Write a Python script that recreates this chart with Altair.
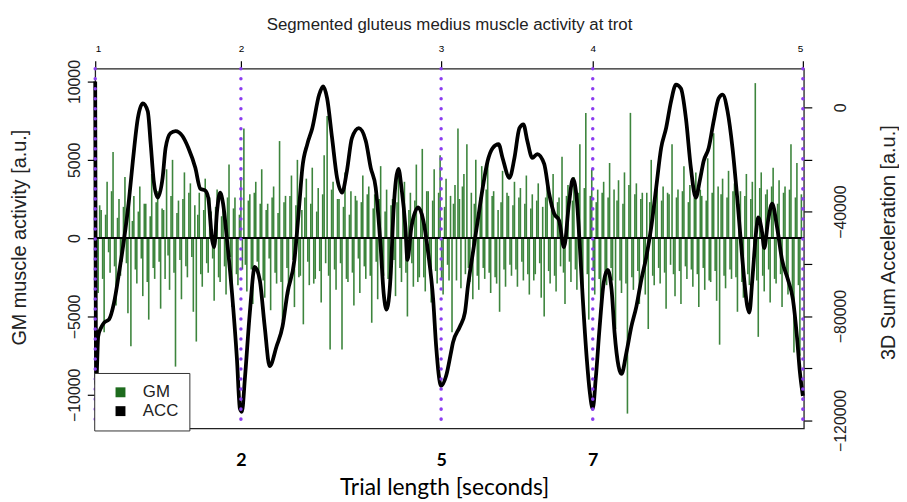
import altair as alt
import pandas as pd

# ---------------- data ----------------
# x is the sample index of the trial (0 .. 1430)
X_MAX = 1430
seg_samples = [0, 294, 698, 1004, 1428]       # segment boundaries (top axis 1..5)
seg_labels = ["1", "2", "3", "4", "5"]
sec_samples = [294, 698, 1004]                # same boundaries in seconds (bottom labels)
sec_labels = ["2", "5", "7"]

# ACC (3D sum acceleration) trace
acc_sample = [
    0, 2, 6, 12, 18, 28, 38, 48, 58, 68,
    76, 86, 96, 106, 112, 118, 126, 136, 142, 152,
    162, 176, 188, 202, 212, 222, 228, 236, 240, 246,
    252, 258, 266, 276, 286, 292, 296, 302, 312, 322,
    332, 342, 352, 366, 378, 388, 402, 412, 418, 428,
    438, 452, 460, 468, 478, 488, 498, 508, 518, 532,
    546, 556, 566, 576, 582, 588, 596, 602, 612, 618,
    626, 630, 638, 652, 662, 672, 682, 688, 698, 708,
    718, 722, 736, 746, 752, 762, 772, 782, 792, 802,
    814, 822, 836, 846, 856, 864, 872, 882, 892, 906,
    916, 926, 936, 946, 956, 964, 972, 978, 984, 992,
    998, 1004, 1010, 1018, 1026, 1034, 1042, 1048, 1056, 1062,
    1072, 1082, 1092, 1102, 1112, 1122, 1132, 1142, 1152, 1162,
    1172, 1182, 1192, 1202, 1212, 1220, 1228, 1238, 1248, 1258,
    1266, 1276, 1286, 1296, 1306, 1316, 1320, 1326, 1334, 1338,
    1346, 1350, 1358, 1366, 1376, 1386, 1398, 1408, 1416, 1422,
    1428,
]
acc_value = [
    9900, -106000, -87800, -84400, -82500, -81300, -74900, -63500, -50900, -35700,
    -20500, -4200, 1500, -1500, -14100, -28100, -34600, -27000, -15600, -9900,
    -9100, -11000, -15600, -23200, -31200, -31900, -34600, -50900, -53600, -39500,
    -32700, -36900, -50900, -71100, -96500, -115500, -116700, -104100, -78700, -61200,
    -66100, -84000, -99200, -91600, -84000, -71100, -58500, -36900, -23200, -14100,
    -8000, 4900, 8000, 3400, -11800, -27000, -32700, -24300, -11800, -8000,
    -12900, -23200, -30800, -53600, -71100, -77500, -65000, -39500, -23600, -30800,
    -46000, -58500, -46000, -38400, -43300, -55900, -73700, -91600, -106800, -103000,
    -93900, -90100, -84000, -78700, -68800, -55900, -43300, -30800, -20500, -15600,
    -14100, -19400, -27000, -19400, -8000, -6500, -12900, -19400, -17900, -21700,
    -33100, -40700, -43300, -53600, -36900, -27400, -35700, -53600, -73700, -96500,
    -109100, -115500, -104100, -84000, -67300, -62300, -69900, -86300, -99200, -102200,
    -93900, -84000, -76400, -66100, -57400, -46000, -30800, -15600, -8000, 2300,
    8700, 7200, -4200, -23200, -34600, -28100, -20500, -15600, -5300, 3400,
    4900, -1500, -15600, -35700, -58500, -76400, -78700, -66100, -47100, -42200,
    -48300, -54000, -43300, -36900, -46000, -58500, -66100, -73700, -87800, -101500,
    -110600,
]

# GM (gluteus medius EMG) spikes: main samples every GM_STEP, in-between samples offset by GM_STEP/2
GM_STEP = 6
gm_value = [
    2800, -3500, 1800, -6000, 3600, -2200, 5500, -4300, 2500, -1500,
    3900, -4800, -6900, 2700, -2900, 3300, -3700, 2200, -5200, 4100,
    -2600, 3000, -4500, 1800, 4400, -3300, 5000, -8200, 2400, -3900,
    4200, -2500, 3500, -4700, -6600, 2900, -3100, 3800, -2200, 1700,
    -4000, 3100, -2800, 2300, -3600, 4700, -4400, 2600, -3000, 3900,
    7000, -3400, 2800, -4200, 3600, -2600, 4400, -3800, 2200, -4600,
    3300, -2900, 6200, -5300, 2700, -3600, 4000, -4400, 5000, -2400,
    -5500, 3800, -3000, 4500, -2600, 3200, -4100, 5300, 7800, -7100,
    3600, -3300, 2500, -7100, 4200, -2800, 3000, -4300, 2400, -3500,
    4000, -2600, 3300, -5400, 2800, -3900, 4600, -2400, 3100, -3200,
    2500, -3700, 4300, -2800, 3600, -5000, 2900, -3100, 4700, -2500,
    5700, -3400, 3000, -4100, 4400, -2900, 5300, -3600, 3800, -2700,
    -6000, 3400, 7000, -3200, 4100, 6000, -2800, -3900, 5000, -3300,
    4600, -2600, 5200, -3500, 3000, -2900, -4700, 4300, -3100, 2700,
    -2400, 3600, -3100, 3200, -2700, 4000, -3600, 2800, -2300, 3500,
    -3800, -5000, 3300, -2900, 4100, -3400, 2600, 5200, -4200, 3400,
    -2800, 3900, -3300, 6000, -4000, 8000, -5200, 4400, -3600, 3100,
    -4300, 3600, -3000, 4800, -2700, -5800, 3700, -3500, 4200, -11200,
    8000, -3300, 3500, -4200, 2900, -3600, -5800, 5000, -3000, 3800,
    -2900, 3300, -4500, 2800, 6000, -3700, 3100, -4200, 4600, -2600,
    3400, -3100, 4200, -4400, 2700, -3300, 5100, -2800, 6700, -4000,
    -6800, 3800, -3200, 4300, -2600, 3500, -4700, 3000, -3800, 4100,
    -3000, 3600, 9900, -6300, 4200, -3400, 3100, -4100, 4500, -2900,
    3700, -4400, 3300, -3600, 6000, -7300, 4800, -7500,
]
gm_value_mid = [
    -1200, 2100, -2600, 1500, -900, 3000, -1800, 1300, -2400, 2000,
    -1600, 2500, 1100, -2000, 1700, -1300, 2200, -2800, 1400, -1900,
    2300, -1500, 1900, -2600, -1100, 2700, -2200, 1600, -1400, 2500,
    -1800, 2900, -1200, 2100, 1500, -2300, 1800, -1600, 2600, -1300,
    2000, -2500, 1400, -1800, 2600, -1200, 1900, -2300, 1500, -2000,
    -1700, 2400, -2000, 2900, -1500, 2200, -2700, 1800, -1300, 2600,
    -2200, 1600, -2800, 2300, -1900, 2700, -1400, 2100, -2500, 1800,
    2600, -1500, 2200, -2900, 1700, -2100, 2800, -1600, -2400, 3100,
    -2000, 2500, -1600, 2000, -2600, 1500, -2200, 2700, -1300, 2300,
    -1800, 2800, -2400, 1900, -1500, 2500, -2000, 1700, -2600, 2100,
    -1400, 2300, -1900, 2600, -2200, 1800, -1600, 2400, -2800, 1500,
    -2500, 3000, -1800, 2400, -2100, 2900, -2600, 2000, -1700, 2700,
    2200, -2700, 2500, 3300, -2300, -1900, 2900, 2200, -2400, 2600,
    -1900, 3100, -2200, 2700, -2500, 1800, 2300, -2000, 2900, -1700,
    2100, -2000, 2600, -1500, 2200, -2300, 1900, -2700, 2400, -1600,
    2000, 2600, -2100, 1800, -2400, 2300, -1800, -2200, 2700, -1500,
    2400, -2000, 2900, -2600, 3200, -2300, 2700, -2100, 2300, -2600,
    2900, -2200, 2600, -1900, 3100, 2400, -2700, 2200, -2900, 3400,
    -2500, 2800, -2100, 2500, -1800, 2900, 2300, -2400, 2700, -1900,
    2400, -2200, 2900, -1700, -2300, 2600, -2100, 3000, -1800, 2300,
    -2000, 2600, -2300, 3100, -1900, 2400, -2700, 2900, -2100, 3300,
    2800, -2400, 2600, -2000, 3000, -2500, 2200, -2800, 2700, -2300,
    2500, -2100, -2700, 3200, -2400, 2800, -2000, 3300, -2600, 2200,
    -2300, 2900, -2500, 3100, -3300, 2600, -3000, 2800,
]

series_names = ["GM", "ACC"]
series_colors = ["#1d6b1d", "#000000"]

# ---------------- tables ----------------
gm_df = pd.DataFrame({
    "sample": [i * GM_STEP for i in range(len(gm_value))]
    + [i * GM_STEP + GM_STEP // 2 for i in range(len(gm_value_mid))],
    "gm": gm_value + gm_value_mid,
})
acc_df = pd.DataFrame({"sample": acc_sample, "acc": acc_value})
seg_df = pd.DataFrame({"sample": seg_samples})
legend_df = pd.DataFrame({"series": series_names, "nx": [None, None]})

R_FONT = "Liberation Sans"
OVERLAY_FONT = "Lato"


def label_expr(values, labels):
    expr = "''"
    for v, l in zip(values[::-1], labels[::-1]):
        expr = f"datum.value == {v} ? '{l}' : ({expr})"
    return expr


x_scale = alt.Scale(domain=[0, X_MAX], nice=False, zero=False)
gm_dom = [-12150, 10820]
acc_dom = [-123100, 14800]

top_axis = alt.Axis(
    orient="top", values=seg_samples, labelExpr=label_expr(seg_samples, seg_labels),
    tickSize=8, tickColor="black", tickWidth=1.2, domain=False, grid=False,
    labelFont=R_FONT, labelFontSize=10, labelPadding=7, labelColor="black",
    title="Segmented gluteus medius muscle activity at trot",
    titleFont=R_FONT, titleFontSize=17, titleFontWeight="normal", titleColor="#222",
    titleX=357, titleY=-45, titleAlign="center", titleBaseline="middle", titleAngle=0,
)
left_axis = alt.Axis(
    orient="left", values=[-10000, -5000, 0, 5000, 10000], format="d",
    labelAngle=270, labelAlign="center", labelBaseline="bottom",
    tickSize=8, tickColor="black", tickWidth=1.2, domain=False, grid=False,
    labelFont=R_FONT, labelFontSize=16, labelPadding=5, labelColor="#222",
    title="GM muscle activity [a.u.]", titleFont=R_FONT, titleFontSize=20,
    titleFontWeight="normal", titleColor="#222", titleAngle=270,
    titleX=-76, titleY=170, titleAlign="center", titleBaseline="middle",
)
right_axis = alt.Axis(
    orient="right", values=[0, -20000, -40000, -60000, -80000, -100000, -120000],
    format="d", labelExpr="datum.value % 40000 == 0 ? datum.label : ''",
    labelAngle=270, labelAlign="center", labelBaseline="top",
    tickSize=8, tickColor="black", tickWidth=1.2, domain=False, grid=False,
    labelFont=R_FONT, labelFontSize=16, labelPadding=21, labelColor="#222",
    title="3D Sum Acceleration [a.u.]", titleFont=R_FONT, titleFontSize=20,
    titleFontWeight="normal", titleColor="#222", titleAngle=270,
    titleX=85, titleY=175, titleAlign="center", titleBaseline="middle",
)
bottom_axis = alt.Axis(
    orient="bottom", values=sec_samples, labelExpr=label_expr(sec_samples, sec_labels),
    ticks=False, tickSize=0, domain=False, grid=False,
    labelFont=OVERLAY_FONT, labelFontSize=18, labelFontWeight="bold", labelColor="black",
    labelPadding=23,
    title="Trial length [seconds]", titleFont=OVERLAY_FONT, titleFontSize=23,
    titleFontWeight="normal", titleColor="black",
    titleX=352, titleY=60, titleAlign="center", titleBaseline="middle",
)

spikes = alt.Chart(gm_df).mark_rule(color="#287828", strokeWidth=1.6, opacity=0.9).encode(
    x=alt.X("sample:Q", scale=x_scale, axis=top_axis),
    y=alt.Y("gm:Q", scale=alt.Scale(domain=gm_dom, nice=False, zero=False), axis=left_axis),
    y2=alt.datum(0),
)
zero_line = alt.Chart(gm_df).mark_rule(color="black", strokeWidth=1.4).encode(
    y=alt.Y(datum=0, scale=alt.Scale(domain=gm_dom, nice=False, zero=False), axis=None),
)
legend_layer = alt.Chart(legend_df).mark_square(size=100, opacity=1).encode(
    x=alt.X("nx:Q", scale=x_scale, axis=None),
    y=alt.Y("nx:Q", scale=alt.Scale(domain=gm_dom, nice=False, zero=False), axis=None),
    color=alt.Color(
        "series:N",
        scale=alt.Scale(domain=series_names, range=series_colors),
        legend=alt.Legend(
            orient="none", legendX=-1, legendY=307, title=None,
            symbolType="square", symbolSize=100, symbolStrokeWidth=0,
            symbolOffset=7, labelOffset=14, padding=11, rowPadding=1,
            labelFont=R_FONT, labelFontSize=17, labelColor="#222",
            fillColor="white", strokeColor="#333", cornerRadius=0,
        ),
    ),
)
acc_line = alt.Chart(acc_df).mark_line(color="black", strokeWidth=3.8, interpolate="monotone").encode(
    x=alt.X("sample:Q", scale=x_scale, axis=None),
    y=alt.Y("acc:Q", scale=alt.Scale(domain=acc_dom, nice=False, zero=False), axis=right_axis),
)
bounds = alt.Chart(seg_df).mark_rule(
    color="#8b3cf0", strokeWidth=3.5, strokeDash=[0.1, 10], strokeCap="round"
).encode(
    x=alt.X("sample:Q", scale=x_scale, axis=bottom_axis),
)

chart = (
    alt.layer(spikes, zero_line, legend_layer, acc_line, bounds)
    .resolve_scale(y="independent")
    .resolve_axis(x="independent", y="independent")
    .properties(
        width=715, height=363,
        autosize=alt.AutoSizeParams(type="none"),
        padding={"left": 88, "top": 59, "right": 96, "bottom": 80},
        background="white",
    )
    .configure_view(stroke="#222", strokeWidth=1.3)
)

chart.save("out.html", embed_options={"renderer": "svg", "actions": False})
